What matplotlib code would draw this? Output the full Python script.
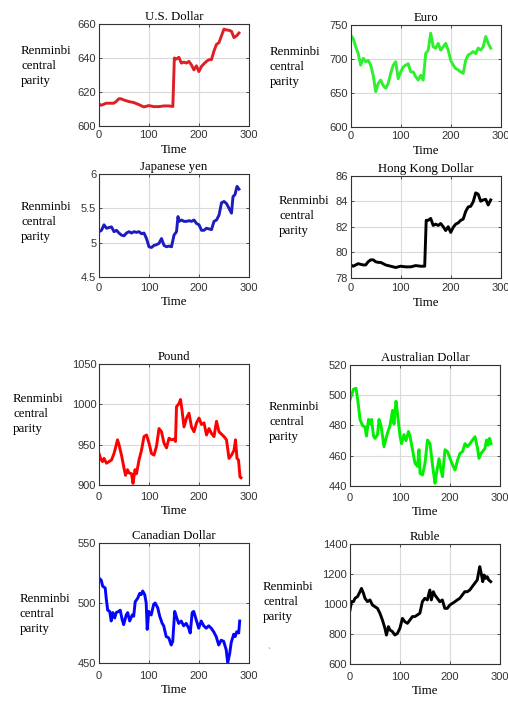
import matplotlib
matplotlib.use("Agg")
import matplotlib.pyplot as plt

# ---------------- data ----------------
usd_t = [0, 5, 10, 15, 20, 30, 35, 40, 45, 50, 60, 70, 80, 90, 100, 110, 120, 130, 140, 148,
         151, 155, 160, 165, 170, 175, 180, 185, 190, 195, 200, 205, 210, 215, 220, 225, 230,
         235, 240, 245, 250, 255, 260, 265, 270, 275, 280]
usd_v = [613, 612.2, 612.8, 613.4, 613.4, 613.4, 614.4, 616, 616, 615.3, 614.4, 613.8, 612.6,
         611.2, 612, 611.4, 611.4, 611.8, 611.8, 611.5,
         640, 639.4, 640.4, 637, 637.6, 637, 638, 636, 633, 635.4, 632, 635, 636.6, 638, 639,
         639, 644, 648, 649, 653, 657, 656.5, 656.3, 655.7, 652, 653, 654.7]

eur_t = [0, 5, 10, 15, 20, 25, 30, 35, 40, 45, 50, 55, 60, 65, 70, 75, 80, 85, 90, 95, 100,
         105, 110, 115, 120, 125, 130, 135, 140, 145, 150, 155, 160, 165, 170, 175, 180, 185,
         190, 195, 200, 205, 210, 215, 220, 225, 230, 235, 240, 245, 250, 255, 260, 265, 270,
         275, 280]
eur_v = [735, 730, 718, 708, 691, 701, 696, 698, 691, 676, 652, 664, 669, 661, 657, 664, 679,
         691, 696, 671, 681, 688, 691, 693, 681, 681, 674, 669, 676, 669, 708, 713, 738, 718,
         716, 723, 713, 718, 723, 713, 698, 691, 686, 684, 681, 679, 698, 706, 708, 711, 708,
         716, 713, 718, 733, 723, 716]

jpy_t = [0, 5, 10, 15, 20, 25, 30, 35, 40, 45, 50, 55, 60, 65, 70, 75, 80, 85, 90, 95, 100,
         105, 110, 115, 120, 125, 130, 135, 140, 145, 150, 155, 158, 160, 165, 170, 175, 180,
         185, 190, 195, 200, 205, 210, 215, 220, 225, 230, 235, 240, 245, 250, 255, 260, 265,
         268, 272, 276, 280]
jpy_v = [5.16, 5.18, 5.26, 5.21, 5.22, 5.23, 5.16, 5.18, 5.14, 5.11, 5.10, 5.14, 5.16, 5.14,
         5.16, 5.15, 5.16, 5.13, 5.14, 5.06, 4.94, 4.93, 4.96, 4.97, 4.99, 5.06, 4.96, 4.94,
         4.95, 4.94, 5.11, 5.16, 5.38, 5.31, 5.33, 5.31, 5.31, 5.32, 5.31, 5.33, 5.28, 5.26,
         5.18, 5.18, 5.21, 5.20, 5.19, 5.31, 5.33, 5.40, 5.58, 5.60, 5.57, 5.50, 5.43, 5.67,
         5.70, 5.82, 5.78]

hkd_t = [0, 5, 10, 15, 20, 25, 30, 35, 40, 45, 50, 55, 60, 70, 80, 90, 100, 110, 120, 130,
         140, 148, 151, 155, 160, 165, 170, 175, 180, 185, 190, 195, 200, 205, 210, 215, 220,
         225, 230, 235, 240, 245, 250, 255, 260, 265, 270, 275, 280]
hkd_v = [79.0, 78.9, 79.0, 79.1, 79.05, 79.0, 79.0, 79.25, 79.4, 79.4, 79.25, 79.2, 79.2,
         79.0, 78.9, 78.8, 78.9, 78.85, 78.85, 78.95, 78.9, 78.9, 82.5, 82.5, 82.65, 82.1,
         82.2, 82.1, 82.25, 82.0, 81.7, 82.0, 81.55, 81.95, 82.2, 82.3, 82.5, 82.6, 83.2,
         83.55, 83.6, 83.95, 84.65, 84.55, 84.0, 84.1, 84.15, 83.7, 84.1]

gbp_t = [0, 3, 7, 10, 15, 20, 25, 30, 33, 37, 40, 45, 50, 53, 57, 60, 65, 68, 72, 75, 80, 85,
         90, 95, 100, 105, 110, 115, 120, 125, 130, 135, 140, 145, 150, 153, 155, 160, 163,
         166, 170, 175, 180, 185, 190, 195, 200, 205, 210, 215, 220, 225, 230, 235, 240, 245,
         250, 255, 260, 265, 270, 273, 276, 279, 282, 284]
gbp_v = [939, 933, 929, 933, 927, 929, 931, 939, 946, 956, 950, 937, 921, 912, 919, 915, 914,
         902, 919, 914, 931, 943, 960, 962, 952, 939, 937, 948, 970, 966, 952, 946, 958, 956,
         957, 954, 997, 1001, 1006, 993, 972, 983, 989, 972, 966, 977, 983, 975, 977, 962,
         970, 964, 960, 979, 966, 963, 960, 956, 933, 937, 943, 956, 933, 931, 910, 909]

aud_t = [0, 3, 7, 12, 15, 18, 20, 25, 30, 33, 37, 40, 43, 47, 50, 55, 58, 62, 65, 68, 72, 75,
         80, 85, 88, 92, 95, 98, 100, 103, 108, 112, 117, 120, 125, 130, 135, 138, 140, 145,
         150, 155, 160, 165, 170, 173, 178, 182, 185, 190, 195, 200, 205, 210, 215, 220, 225,
         230, 235, 240, 245, 250, 255, 258, 262, 265, 270, 273, 276, 279, 282]
aud_v = [497, 500, 504, 504.6, 498, 490, 484, 480, 479, 473, 484, 481, 484, 473, 471.5, 474,
         484, 480, 473, 466, 471.5, 475, 480, 490, 481, 496, 488, 479, 473, 468, 474, 470,
         476, 473, 464, 455, 453, 464, 448.4, 447.3, 455, 470.4, 468, 454, 441.8, 448.4, 458,
         450.6, 446.2, 464, 462.7, 458.3, 454, 450.6, 457, 461.6, 462.7, 468, 466, 468, 470.4,
         472.6, 465, 458.3, 461.6, 462.7, 465, 470.4, 467, 471.5, 468]

cad_t = [0, 5, 8, 13, 15, 18, 22, 25, 28, 32, 35, 40, 43, 47, 50, 55, 58, 62, 67, 70, 73, 78,
         82, 85, 88, 92, 95, 97, 100, 105, 110, 113, 118, 122, 127, 130, 135, 140, 145, 148,
         152, 155, 160, 165, 170, 175, 180, 183, 187, 190, 195, 200, 205, 210, 215, 220, 225,
         230, 235, 240, 245, 250, 255, 258, 262, 265, 270, 273, 276, 280, 282]
cad_v = [521, 519, 514, 512.5, 504, 494, 493, 485, 492, 487.5, 492, 493, 494, 486, 482, 490,
         492, 485, 490, 489, 501, 504, 508, 507, 510, 507, 500, 478, 493, 490, 499, 500, 496,
         489, 483, 481, 472, 471, 465, 468, 493, 489, 483, 485, 481, 483, 479, 475, 492, 493,
         486, 479, 485, 481, 479, 481, 479, 476, 472, 465, 469, 468, 461, 450, 458, 467, 474,
         472, 476, 475, 485]

rub_t = [0, 3, 7, 10, 15, 20, 23, 27, 30, 35, 40, 45, 50, 55, 60, 65, 70, 73, 77, 80, 85, 90,
         95, 100, 105, 110, 115, 120, 125, 130, 135, 140, 145, 150, 155, 160, 163, 167, 170,
         175, 180, 185, 190, 195, 200, 205, 210, 215, 220, 225, 230, 235, 240, 245, 250, 255,
         260, 263, 266, 269, 272, 275, 278, 282]
rub_v = [960, 1016, 1016, 1038, 1049, 1082, 1104, 1071, 1038, 1016, 1027, 993, 982, 971, 938,
         893, 838, 793, 849, 827, 816, 793, 804, 838, 904, 882, 871, 893, 916, 916, 927, 938,
         1015, 1038, 1027, 1093, 1027, 1082, 1060, 1038, 1015, 1027, 971, 971, 993, 1004,
         1015, 1027, 1038, 1060, 1082, 1082, 1093, 1116, 1138, 1160, 1249, 1204, 1149, 1193,
         1171, 1182, 1160, 1149]

titles = ["U.S. Dollar", "Euro", "Japanese yen", "Hong Kong Dollar",
          "Pound", "Australian Dollar", "Canadian Dollar", "Ruble"]
yticks_list = [[600, 620, 640, 660], [600, 650, 700, 750], [4.5, 5, 5.5, 6], [78, 80, 82, 84, 86],
               [900, 950, 1000, 1050], [440, 460, 480, 500, 520], [450, 500, 550],
               [600, 800, 1000, 1200, 1400]]
ytick_labels = [["600", "620", "640", "660"], ["600", "650", "700", "750"],
                ["4.5", "5", "5.5", "6"], ["78", "80", "82", "84", "86"],
                ["900", "950", "1000", "1050"], ["440", "460", "480", "500", "520"],
                ["450", "500", "550"], ["600", "800", "1000", "1200", "1400"]]
xticks = [0, 100, 200, 300]
series = [(usd_t, usd_v), (eur_t, eur_v), (jpy_t, jpy_v), (hkd_t, hkd_v),
          (gbp_t, gbp_v), (aud_t, aud_v), (cad_t, cad_v), (rub_t, rub_v)]
colors = ["#dd1f26", "#2ef02e", "#1c1cbf", "#000000", "#ff0000", "#00f000", "#0505ff", "#000000"]

# ---------------- layout (pixels) ----------------
W, H = 508, 703
boxes = [(98.7, 24, 249, 126), (350.7, 25, 500.7, 127),
         (99, 174, 249, 277), (350.7, 175.7, 500.7, 277.7),
         (99, 364, 249, 485), (350, 365, 500, 486),
         (98.7, 543, 248.7, 663), (350, 544, 499.7, 664)]
ylab_pos = [(21, 66), (270, 67), (21, 222), (279, 216),
            (13, 414), (269, 422), (20, 614), (263, 602)]
xtick_pad = [3, 3, 4, 4, 5, 5, 5.5, 5.5]

serif = ["Liberation Serif", "DejaVu Serif"]
sans = ["Liberation Sans", "DejaVu Sans"]

fig = plt.figure(figsize=(W / 100, H / 100), dpi=100)
fig.patch.set_facecolor("white")

for i in range(8):
    x0, y0, x1, y1 = boxes[i]
    ax = fig.add_axes([x0 / W, 1 - y1 / H, (x1 - x0) / W, (y1 - y0) / H])
    t, v = series[i]
    ax.plot(t, v, color=colors[i], lw=2.1, solid_joinstyle="round")
    yt = yticks_list[i]
    ax.set_xlim(0, 300)
    ax.set_ylim(yt[0], yt[-1])
    ax.set_xticks(xticks)
    ax.set_xticklabels([str(x) for x in xticks], family=sans, fontsize=8, color="#222222")
    ax.set_yticks(yt)
    ax.set_yticklabels(ytick_labels[i], family=sans, fontsize=8, color="#222222")
    ax.grid(True, color="#dadada", lw=0.8)
    ax.set_axisbelow(True)
    ax.tick_params(direction="in", length=2, width=0.6, top=True, right=True,
                   colors="#333333")
    ax.tick_params(axis="x", pad=xtick_pad[i])
    ax.tick_params(axis="y", pad=2)
    for s in ax.spines.values():
        s.set_linewidth(0.8)
        s.set_color("#333333")
    ax.set_title(titles[i], family=serif, fontsize=9.2, pad=3)
    ax.set_xlabel("Time", family=serif, fontsize=9.2, labelpad=2.5)
    lx, ly = ylab_pos[i]
    fig.text(lx / W, 1 - ly / H, "Renminbi\ncentral\nparity", family=serif, fontsize=9.3,
             ha="left", va="center", linespacing=1.35)

fig.text(269 / W, 1 - 652 / H, "`", family=serif, fontsize=6, color="#666666",
         ha="center", va="center")

fig.savefig("out.png", dpi=100, facecolor="white")
